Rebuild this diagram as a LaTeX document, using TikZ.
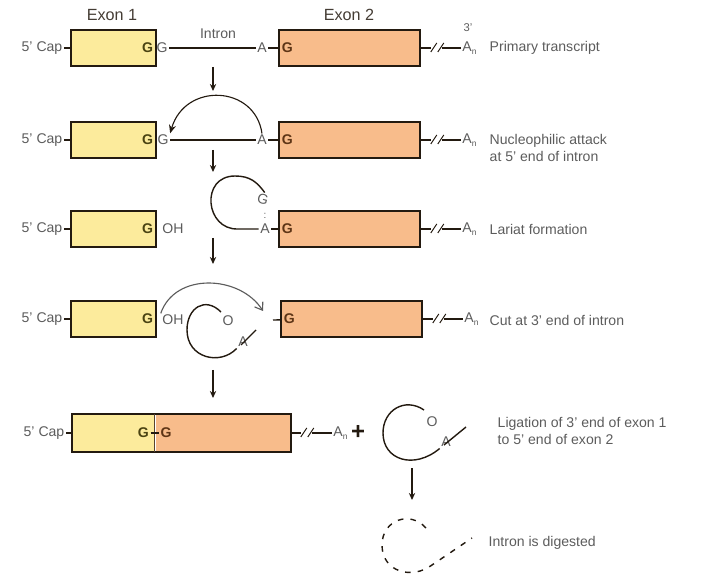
\documentclass[tikz,border=0pt]{standalone}
\usepackage{fontspec}
\setmainfont{Liberation Sans}
\usetikzlibrary{positioning, arrows.meta, calc}
\definecolor{exonOne}{HTML}{FCEB9C}
\definecolor{exonTwo}{HTML}{F8BC8B}
\definecolor{boxEdge}{HTML}{231A10}
\definecolor{labelGray}{HTML}{5C5C5C}
\definecolor{gOne}{HTML}{4A4312}
\definecolor{gTwo}{HTML}{5E3516}

\begin{document}
\begin{tikzpicture}[x=0.025cm, y=-0.025cm, font=\fontsize{10}{12}\selectfont,
    exonone/.style={draw=boxEdge, line width=1.4pt, fill=exonOne, anchor=west,
      minimum width=2.12cm, minimum height=0.92cm, inner sep=0pt},
    exontwo/.style={exonone, fill=exonTwo, minimum width=3.52cm},
    lbl/.style={text=labelGray, inner sep=1pt},
    gbase/.style={inner sep=1pt, font=\fontsize{10}{12}\selectfont\bfseries},
    link/.style={line width=1pt, draw=boxEdge},
    stepdown/.style={link, -{Stealth[length=5pt, width=4.5pt]}}]
  \useasboundingbox (0,0) rectangle (704,583);
  % Exon labels
  \node[text=boxEdge!85, font=\fontsize{11.5}{13}\selectfont] (exonlblone) at (112,15) {Exon 1};
  \node[text=boxEdge!85, font=\fontsize{11.5}{13}\selectfont] (exonlbltwo) at (349,15) {Exon 2};
  % Rows 1-4: exon 1, exon 2 and poly(A) tail
  \foreach \r/\y/\xx in {a/48/278, b/140/278, c/229/278, d/319/280} {
    \node[exonone] (eone\r) at (70,\y) {};
    \node[gbase, text=gOne, anchor=east] (gone\r) at ([xshift=-1.5pt]eone\r.east) {G};
    \node[lbl, anchor=east] (cap\r) at (64,\y) {5' Cap};
    \draw[link] (cap\r) -- (eone\r);
    \node[exontwo] (etwo\r) at (\xx,\y) {};
    \node[gbase, text=gTwo, anchor=west] (gtwo\r) at ([xshift=1.5pt]etwo\r.west) {G};
    \draw[link] (etwo\r.east) -- ++(10,0);
    \draw[link, line width=0.7pt] ($(etwo\r.east)+(10,4)$) -- ++(6,-9);
    \draw[link, line width=0.7pt] ($(etwo\r.east)+(17,4)$) -- ++(6,-9);
    \node[lbl, anchor=west] (an\r) at ($(etwo\r.east)+(40,0)$) {A\raisebox{-2pt}{\fontsize{6}{6}\selectfont n}};
    \draw[link] ($(etwo\r.east)+(21,0)$) -- (an\r);
  }
  % Row 1: primary transcript
  \node[lbl] (gfivea) at (162,48) {G};
  \node[lbl] (aa) at (262,48) {A};
  \node[lbl] (intronlbl) at (218,34) {Intron};
  \draw[link] (gfivea) -- (aa);
  \draw[link] (aa) -- (etwoa);
  \node[lbl, font=\fontsize{8}{9}\selectfont] (threea) at (468,28) {3'};
  \node[lbl, anchor=west] (texta) at (488,48) {Primary transcript};
  % Row 2: nucleophilic attack
  \node[lbl] (gfiveb) at (163,140) {G};
  \node[lbl] (ab) at (262,140) {A};
  \draw[link] (gfiveb) -- (ab);
  \draw[link] (ab) -- (etwob);
  \draw[link, line width=0.8pt, -{Stealth[length=6pt, width=5pt]}] (ab.north) .. controls (255,85) and (185,82) .. (gfiveb.north east);
  \node[lbl, anchor=west, align=left] (textb) at (488,148) {Nucleophilic attack\\at 5' end of intron};
  % Row 3: lariat formation
  \node[lbl] (ohc) at (173,229) {OH};
  \node[lbl] (ac) at (265,229) {A};
  \node[lbl, rotate=-15] (gloopc) at (263,199) {G};
  \node[lbl, inner sep=0pt, font=\fontsize{7}{7}\selectfont] (colonc) at (265,216) {:};
  \draw[link] (ac) -- (etwoc);
  \draw[link] (ac.west) -- (238,229) .. controls (205,230) and (200,176) .. (235,176)
    .. controls (250,176) and (257,182) .. (gloopc.north);
  \node[lbl, anchor=west] (textc) at (488,229) {Lariat formation};
  % Row 4: cut at 3' end
  \node[lbl] (ohd) at (173,320) {OH};
  \coordinate (dashd) at (273,320);
  \draw[link] (dashd) -- (etwod);
  \draw[labelGray, line width=0.8pt, -{Straight Barb[length=5pt, width=7pt]}] (ohd.north west)
    .. controls (175,272) and (240,275) .. (263,311);
  \node[lbl] (loopod) at (228,321) {O};
  \node[lbl] (loopad) at (243,342) {A};
  \draw[link] ([shift={(-2,3)}]loopad.center) -- (256,330);
  \draw[link] (221,312) .. controls (205,296) and (187,308) .. (187,330)
    .. controls (187,358) and (220,366) .. (loopad.south west);
  \node[lbl, anchor=west] (textd) at (488,320) {Cut at 3' end of intron};
  % Row 5: ligated exons and free lariat
  \node[exonone, draw=none, minimum width=2.02cm] (eonee) at (72,433) {};
  \node[exontwo, draw=none, minimum width=3.35cm] (etwoe) at (eonee.east) {};
  \draw[boxEdge, line width=1.4pt] (eonee.north west) rectangle (etwoe.south east);
  \draw[boxEdge!75!exonTwo, line width=0.9pt] (eonee.north east) -- (eonee.south east);
  \node[lbl, anchor=east] (cape) at (66,433) {5' Cap};
  \draw[link] (cape) -- (eonee);
  \node[gbase, text=gOne, anchor=east] (gle) at ([xshift=-3pt]eonee.east) {G};
  \node[gbase, text=gTwo, anchor=west] (gre) at ([xshift=3pt]eonee.east) {G};
  \draw[link] (gle) -- (gre);
  \draw[link] (etwoe.east) -- ++(10,0);
  \draw[link, line width=0.7pt] ($(etwoe.east)+(10,4)$) -- ++(6,-9);
  \draw[link, line width=0.7pt] ($(etwoe.east)+(17,4)$) -- ++(6,-9);
  \node[lbl, anchor=west] (ane) at ($(etwoe.east)+(41,0)$) {A\raisebox{-2pt}{\fontsize{6}{6}\selectfont n}};
  \draw[link] ($(etwoe.east)+(21,0)$) -- (ane);
  \node[text=boxEdge, font=\fontsize{17}{17}\selectfont\bfseries] (plus) at (358,432) {+};
  \node[lbl] (loopoe) at (432,422) {O};
  \node[lbl] (loopae) at (446,442) {A};
  \draw[link] ([shift={(-2,3)}]loopae.center) -- (466,427);
  \draw[link] (424,410) .. controls (405,397) and (383,410) .. (383,433)
    .. controls (383,460) and (414,470) .. (loopae.south west);
  \node[lbl, anchor=west, align=left] (texte) at (496,431) {Ligation of 3' end of exon 1\\to 5' end of exon 2};
  % Digested intron
  \draw[link, dashed, dash pattern=on 4pt off 5pt] (426,528) .. controls (410,510) and (382,520) .. (382,545)
    .. controls (382,572) and (412,580) .. (432,565) -- (472,538);
  \node[lbl, anchor=west] (textf) at (487,543) {Intron is digested};
  % Step arrows
  \coordinate (sa) at (213,67);  \coordinate (sb) at (213,91);
  \coordinate (sc) at (213,150); \coordinate (sd) at (213,172);
  \coordinate (se) at (213,238); \coordinate (sf) at (213,264);
  \coordinate (sg) at (213,370); \coordinate (sh) at (213,398);
  \coordinate (si) at (412,468); \coordinate (sj) at (412,500);
  \draw[stepdown] (sa) -- (sb);
  \draw[stepdown] (sc) -- (sd);
  \draw[stepdown] (se) -- (sf);
  \draw[stepdown] (sg) -- (sh);
  \draw[stepdown] (si) -- (sj);
\end{tikzpicture}
\end{document}
